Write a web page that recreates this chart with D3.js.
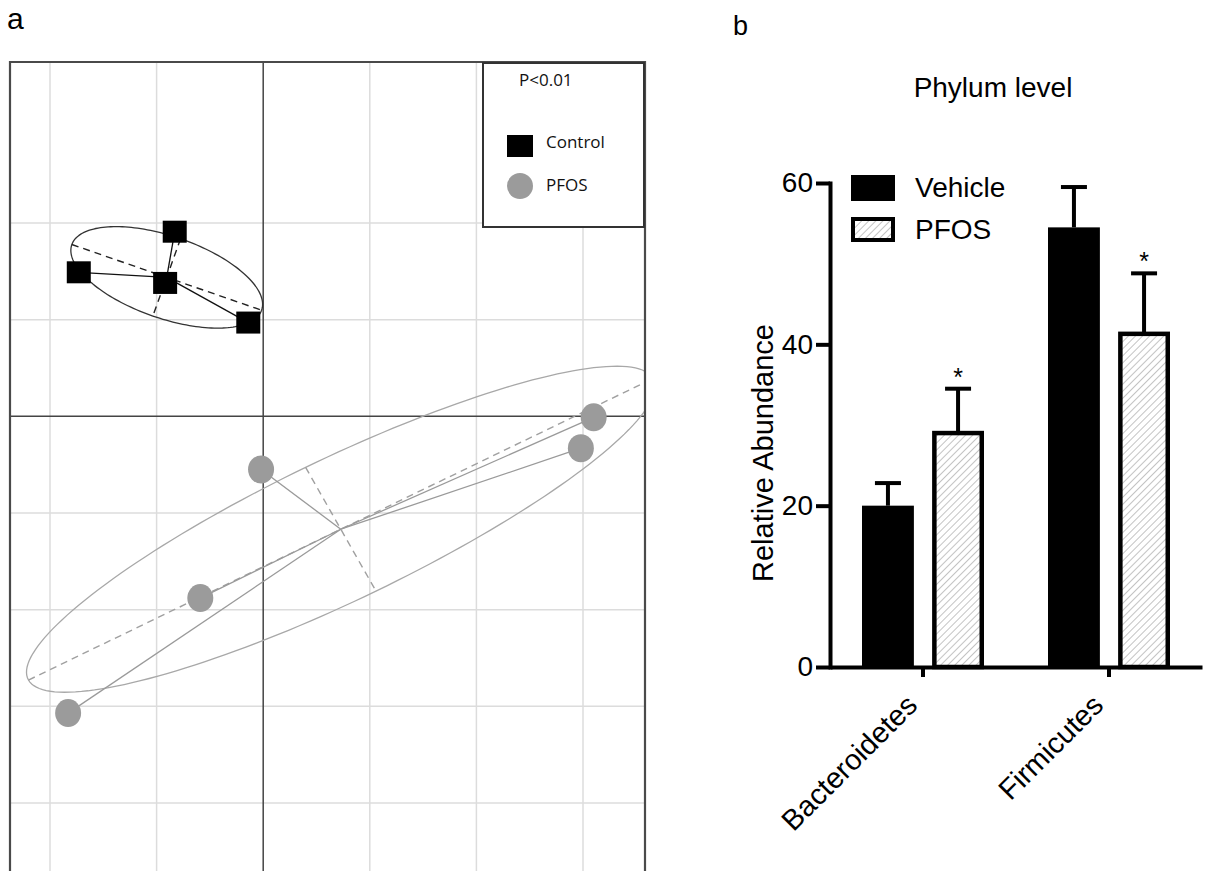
<html>
<head>
<meta charset="UTF-8">
<script src="https://d3js.org/d3.v7.min.js"></script>
<style>
  body { margin: 0; background: #fff; }
  .grid line { stroke: #dcdcdc; stroke-width: 1.5px; }
  .zero { stroke: #444; stroke-width: 1.5px; }
  .frame { stroke: #4a4a4a; stroke-width: 2.2px; fill: none; }
  .panelLabel { font-family: "Liberation Sans", Arial, sans-serif; }
  .legA { font-family: "Open Sans", sans-serif; font-size: 17px; fill: #111; }
  .barAxis .domain, .barAxis line { stroke: #000; stroke-width: 4px; }
  .barAxis text { font-family: "Liberation Sans", Arial, sans-serif; font-size: 28px; fill: #000; }
  .bText { font-family: "Liberation Sans", Arial, sans-serif; fill: #000; }
</style>
</head>
<body>
<svg id="fig" width="1205" height="871"></svg>
<script>
// ---- panel a: ordination scores ----
const controlX = [-1.73, -0.83, -0.92, -0.14];
const controlY = [1.49, 1.91, 1.38, 0.97];
const pfosX = [-0.02, -0.59, -1.83, 2.98, 3.10];
const pfosY = [-0.55, -1.88, -3.07, -0.33, -0.01];
// ellipse half-axes (conjugate), data units
const controlAxes = [[0.89, -0.34], [-0.13, -0.40]];
const pfosAxes = [[2.93, 1.56], [0.33, -0.64]];
const gridX = [-2, -1, 1, 2, 3];
const gridY = [-4, -3, -2, -1, 1, 2];

// ---- panel b: relative abundance ----
const phyla = ['Bacteroidetes', 'Firmicutes'];
const groups = ['Vehicle', 'PFOS'];
const vehicleMean = [20.0, 54.5];
const vehicleErr = [2.8, 5.0];
const pfosMean = [29.0, 41.3];
const pfosErr = [5.5, 7.5];
const pfosStar = ['*', '*'];
const yTicks = [0, 20, 40, 60];

const svg = d3.select('#fig');

// hatch pattern for PFOS bars
const defs = svg.append('defs');
defs.append('pattern')
    .attr('id', 'hatch')
    .attr('patternUnits', 'userSpaceOnUse')
    .attr('width', 5).attr('height', 5)
    .attr('patternTransform', 'rotate(45)')
    .append('line')
    .attr('x1', 0).attr('y1', 0).attr('x2', 0).attr('y2', 5)
    .attr('stroke', '#9a9a9a').attr('stroke-width', 1.2);

defs.append('clipPath').attr('id', 'clipA')
    .append('rect').attr('x', 10).attr('y', 62).attr('width', 635).attr('height', 820);

// ================= panel a =================
const x = d3.scaleLinear().domain([-2, 3]).range([50, 583]);
const y = d3.scaleLinear().domain([-4, 2]).range([803, 223]);

svg.append('text').attr('class', 'panelLabel').attr('x', 7).attr('y', 29)
   .style('font-size', '30px').text('a');

const pa = svg.append('g').attr('clip-path', 'url(#clipA)');

const grid = pa.append('g').attr('class', 'grid');
grid.selectAll('line.gx').data(gridX).join('line')
    .attr('class', 'gx')
    .attr('x1', d => x(d)).attr('x2', d => x(d))
    .attr('y1', 62).attr('y2', 871);
grid.selectAll('line.gy').data(gridY).join('line')
    .attr('class', 'gy')
    .attr('x1', 10).attr('x2', 645)
    .attr('y1', d => y(d)).attr('y2', d => y(d));

pa.append('line').attr('class', 'zero')
  .attr('x1', x(0)).attr('x2', x(0)).attr('y1', 62).attr('y2', 871);
pa.append('line').attr('class', 'zero')
  .attr('x1', 10).attr('x2', 645).attr('y1', y(0)).attr('y2', y(0));

function drawGroup(xs, ys, axes, opts) {
    const pts = xs.map((v, i) => [v, ys[i]]);
    const cx = d3.mean(xs), cy = d3.mean(ys);
    const [a, b] = axes;
    const ell = d3.range(0, 2 * Math.PI, Math.PI / 90).map(t =>
        [cx + a[0] * Math.cos(t) + b[0] * Math.sin(t), cy + a[1] * Math.cos(t) + b[1] * Math.sin(t)]);
    const line = d3.line().x(d => x(d[0])).y(d => y(d[1]));

    pa.append('path').datum(ell)
      .attr('d', line.curve(d3.curveLinearClosed))
      .attr('fill', 'none').attr('stroke', opts.ellipse).attr('stroke-width', 1.3);
    line.curve(d3.curveLinear);

    // dashed principal axes
    [a, b].forEach(v => {
        pa.append('path').datum([[cx - v[0], cy - v[1]], [cx + v[0], cy + v[1]]])
          .attr('d', line)
          .attr('fill', 'none').attr('stroke', opts.dash)
          .attr('stroke-width', 1.4).attr('stroke-dasharray', '7,5');
    });

    // spider lines from centroid
    pa.selectAll(null).data(pts).join('line')
      .attr('x1', x(cx)).attr('y1', y(cy))
      .attr('x2', d => x(d[0])).attr('y2', d => y(d[1]))
      .attr('stroke', opts.spider).attr('stroke-width', 1.3);

    return pts;
}

const cPts = drawGroup(controlX, controlY, controlAxes, { ellipse: '#333', dash: '#222', spider: '#111' });
const pPts = drawGroup(pfosX, pfosY, pfosAxes, { ellipse: '#a8a8a8', dash: '#a0a0a0', spider: '#9a9a9a' });

pa.selectAll('rect.ctrl').data(cPts).join('rect')
  .attr('class', 'ctrl')
  .attr('x', d => x(d[0]) - 12).attr('y', d => y(d[1]) - 11)
  .attr('width', 24).attr('height', 22)
  .attr('fill', '#000');

pa.selectAll('ellipse.pfos').data(pPts).join('ellipse')
  .attr('class', 'pfos')
  .attr('cx', d => x(d[0])).attr('cy', d => y(d[1]))
  .attr('rx', 13).attr('ry', 14)
  .attr('fill', '#9b9b9b');

// frame (open at the bottom)
svg.append('path').attr('class', 'frame').attr('d', 'M10,871V62H645V871');

// legend box
const la = svg.append('g');
la.append('rect').attr('x', 483).attr('y', 63).attr('width', 161).attr('height', 164)
  .attr('fill', '#fff').attr('stroke', '#333').attr('stroke-width', 2);
la.append('text').attr('class', 'legA').attr('x', 519).attr('y', 86).text('P<0.01');
la.append('rect').attr('x', 507).attr('y', 135).attr('width', 26).attr('height', 22).attr('fill', '#000');
la.append('text').attr('class', 'legA').attr('x', 546).attr('y', 148).text('Control');
la.append('ellipse').attr('cx', 520).attr('cy', 186).attr('rx', 13).attr('ry', 13).attr('fill', '#9b9b9b');
la.append('text').attr('class', 'legA').attr('x', 546).attr('y', 191).text('PFOS');

// ================= panel b =================
svg.append('text').attr('class', 'panelLabel').attr('x', 733).attr('y', 35)
   .style('font-size', '27px').text('b');

const yb = d3.scaleLinear().domain([0, 60]).range([667, 183]);
const xb = d3.scaleBand().domain(phyla).range([830, 1202]);
const xs = d3.scaleBand().domain(groups).range([-61, 61]).paddingInner(0.26);

svg.append('text').attr('class', 'bText')
   .attr('x', 993).attr('y', 97).attr('text-anchor', 'middle')
   .style('font-size', '28px').text('Phylum level');

const bars = [];
phyla.forEach((p, i) => {
    bars.push({ phylum: p, group: 'Vehicle', mean: vehicleMean[i], err: vehicleErr[i], star: '' });
    bars.push({ phylum: p, group: 'PFOS', mean: pfosMean[i], err: pfosErr[i], star: pfosStar[i] });
});
const bx = d => xb(d.phylum) + xb.bandwidth() / 2 + xs(d.group);

// error bars
const eb = svg.append('g');
eb.selectAll('line.ev').data(bars).join('line')
  .attr('class', 'ev')
  .attr('x1', d => bx(d) + xs.bandwidth() / 2).attr('x2', d => bx(d) + xs.bandwidth() / 2)
  .attr('y1', d => yb(d.mean)).attr('y2', d => yb(d.mean + d.err))
  .attr('stroke', '#000').attr('stroke-width', 4);
eb.selectAll('line.ec').data(bars).join('line')
  .attr('class', 'ec')
  .attr('x1', d => bx(d) + xs.bandwidth() / 2 - 13).attr('x2', d => bx(d) + xs.bandwidth() / 2 + 13)
  .attr('y1', d => yb(d.mean + d.err)).attr('y2', d => yb(d.mean + d.err))
  .attr('stroke', '#000').attr('stroke-width', 4);

// bars
svg.selectAll('rect.bar').data(bars).join('rect')
   .attr('class', 'bar')
   .attr('x', d => d.group === 'PFOS' ? bx(d) + 2.25 : bx(d))
   .attr('width', d => d.group === 'PFOS' ? xs.bandwidth() - 4.5 : xs.bandwidth())
   .attr('y', d => yb(d.mean))
   .attr('height', d => yb(0) - yb(d.mean))
   .attr('fill', d => d.group === 'PFOS' ? 'url(#hatch)' : '#000')
   .attr('stroke', d => d.group === 'PFOS' ? '#000' : 'none')
   .attr('stroke-width', 4.5);

// significance stars
svg.selectAll('text.star').data(bars.filter(d => d.star)).join('text')
   .attr('class', 'star bText')
   .attr('x', d => bx(d) + xs.bandwidth() / 2)
   .attr('y', d => yb(d.mean + d.err) - 3)
   .attr('text-anchor', 'middle')
   .style('font-size', '25px')
   .text(d => d.star);

// axes
const yAxis = svg.append('g').attr('class', 'barAxis')
   .attr('transform', 'translate(830,0)')
   .call(d3.axisLeft(yb).tickValues(yTicks).tickSize(14).tickSizeOuter(0).tickPadding(3));
yAxis.select('.domain').attr('stroke-linecap', 'square');

const xAxis = svg.append('g').attr('class', 'barAxis')
   .attr('transform', 'translate(0,667)')
   .call(d3.axisBottom(xb).tickSize(10).tickSizeOuter(0));
xAxis.selectAll('text')
   .attr('x', 0).attr('y', 0).attr('dy', 0)
   .attr('text-anchor', 'end')
   .attr('transform', 'translate(-4,40) rotate(-45)')
   .style('font-size', '29px');

svg.append('text').attr('class', 'bText')
   .attr('transform', 'translate(773,453) rotate(-90)')
   .attr('text-anchor', 'middle')
   .style('font-size', '29px')
   .text('Relative Abundance');

// legend b
const lb = svg.append('g');
lb.append('rect').attr('x', 851).attr('y', 175).attr('width', 44).attr('height', 26).attr('fill', '#000');
lb.append('rect').attr('x', 853).attr('y', 219).attr('width', 40).attr('height', 21)
  .attr('fill', 'url(#hatch)').attr('stroke', '#000').attr('stroke-width', 4);
lb.append('text').attr('class', 'bText').attr('x', 915).attr('y', 197).style('font-size', '28px').text('Vehicle');
lb.append('text').attr('class', 'bText').attr('x', 915).attr('y', 239).style('font-size', '28px').text('PFOS');
</script>
</body>
</html>
